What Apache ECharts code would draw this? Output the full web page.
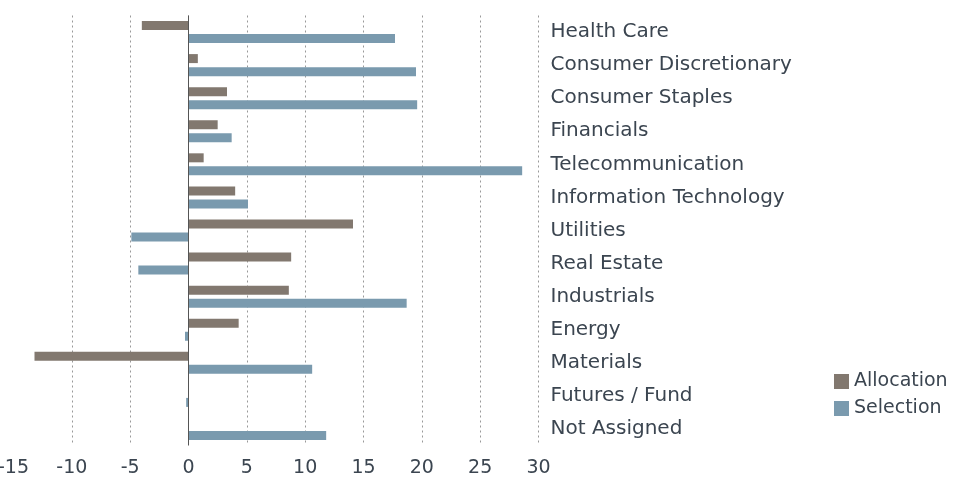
<!DOCTYPE html>
<html>
<head>
<meta charset="utf-8">
<script src="https://cdn.jsdelivr.net/npm/echarts@6/dist/echarts.min.js"></script>
<style>
  html, body { margin: 0; padding: 0; background: #fff; }
  #container { width: 954px; height: 480px; }
</style>
</head>
<body>
<div id="container"></div>
<script>
var sectors = ["Health Care", "Consumer Discretionary", "Consumer Staples", "Financials",
  "Telecommunication", "Information Technology", "Utilities", "Real Estate",
  "Industrials", "Energy", "Materials", "Futures / Fund", "Not Assigned"];
var allocation = [-4.0, 0.8, 3.3, 2.5, 1.3, 4.0, 14.1, 8.8, 8.6, 4.3, -13.2, 0, 0];
var selection = [17.7, 19.5, 19.6, 3.7, 28.6, 5.1, -4.9, -4.3, 18.7, -0.3, 10.6, -0.2, 11.8];

var textColor = "#3b4550";
var font = "DejaVu Sans";

var element = document.getElementById("container");
var myChart = echarts.init(element);

const option = {
  animation: false,
  textStyle: { fontFamily: font },
  grid: { left: 13.5, right: 415.5, top: 15.5, bottom: 34.5, outerBoundsMode: "none", containLabel: false },
  legend: {
    orient: "vertical",
    left: 829,
    top: 367,
    itemWidth: 15,
    itemHeight: 15,
    itemGap: 8,
    icon: "rect",
    textStyle: { color: textColor, fontSize: 19, fontFamily: font, padding: [8, 0, 0, 0] },
    data: ["Allocation", "Selection"]
  },
  xAxis: {
    type: "value",
    min: -15,
    max: 30,
    interval: 5,
    axisLine: { show: false },
    axisTick: { show: false },
    axisLabel: { color: textColor, fontSize: 19, fontFamily: font, margin: 13 },
    splitLine: {
      show: true,
      showMinLine: false,
      lineStyle: { color: "#999", type: [2, 3], width: 1 }
    }
  },
  yAxis: {
    type: "category",
    data: sectors,
    inverse: true,
    position: "right",
    axisLine: { show: false },
    axisTick: { show: false },
    splitLine: { show: false },
    axisLabel: { color: textColor, fontSize: 20, fontFamily: font, margin: 12, align: "left" }
  },
  series: [
    {
      name: "Allocation",
      type: "bar",
      data: allocation,
      barWidth: 9,
      barGap: "45%",
      itemStyle: { color: "#82786f" },
      markLine: {
        silent: true,
        symbol: "none",
        label: { show: false },
        lineStyle: { color: "#555", type: "solid", width: 1 },
        data: [{ xAxis: 0 }]
      }
    },
    {
      name: "Selection",
      type: "bar",
      data: selection,
      barWidth: 9,
      barGap: "45%",
      itemStyle: { color: "#7a9aae" }
    }
  ]
};
option && myChart.setOption(option);
</script>
</body>
</html>
